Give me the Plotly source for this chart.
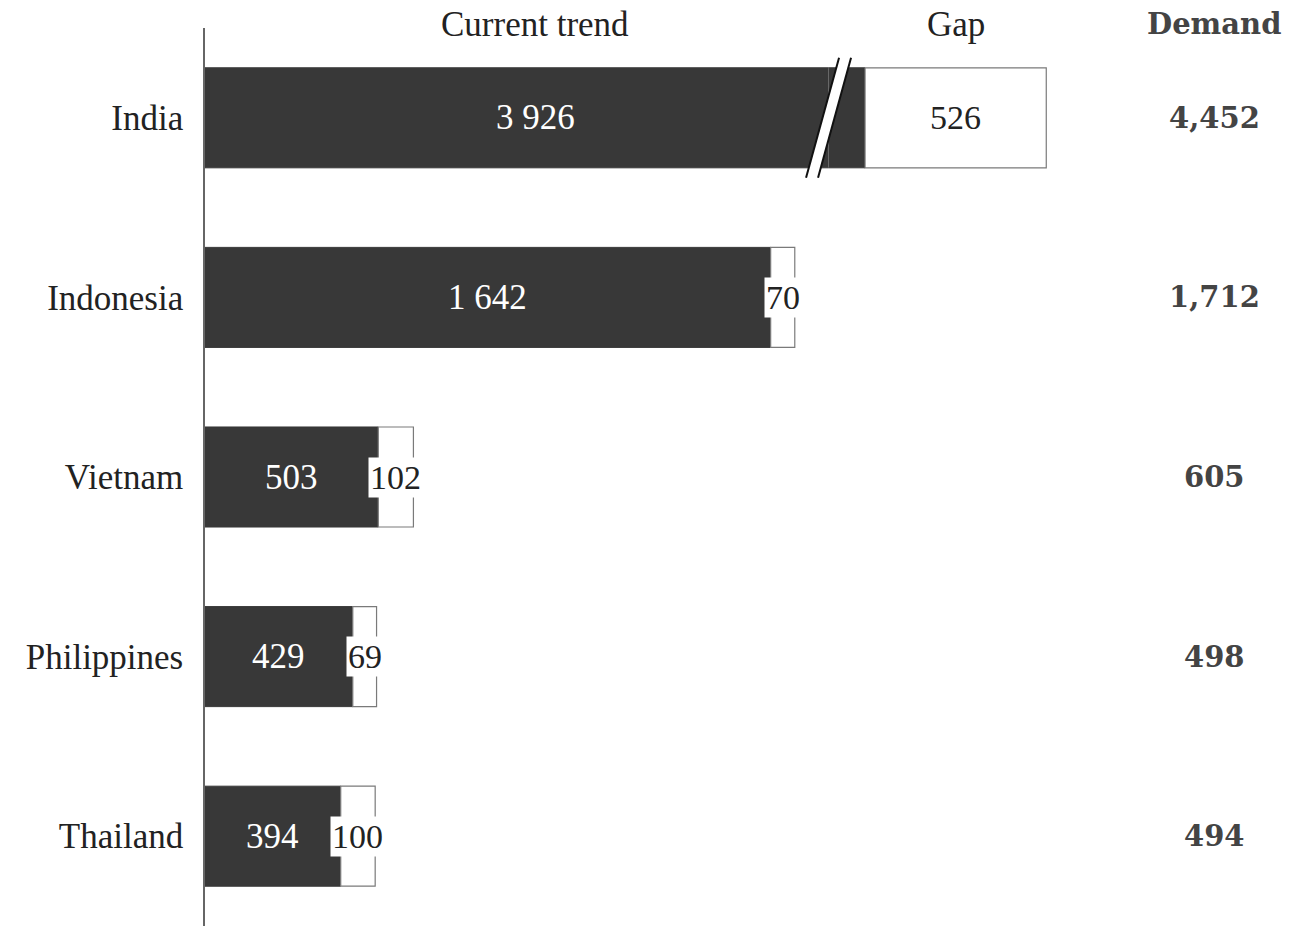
import plotly.graph_objects as go

# Workforce demand by country: current trend vs. remaining gap
countries = ["India", "Indonesia", "Vietnam", "Philippines", "Thailand"]
current_trend = [3926, 1642, 503, 429, 394]
gap = [526, 70, 102, 69, 100]
demand = [4452, 1712, 605, 498, 494]

DARK = "#383838"
EDGE = "#7a7a7a"
TEXT = "#222222"
SERIF = "Liberation Serif, Times New Roman, serif"
BOLD_SERIF = "DejaVu Serif, Georgia, serif"

# Broken x axis: left segment [0, LEFT_MAX], right segment [RIGHT_MIN, RIGHT_MAX]
LEFT_MAX = 1810
RIGHT_MIN = 3820
RIGHT_MAX = 4610
PX_PER_UNIT = 0.3445
W, H = 1314, 926
M_L, M_R, M_T, M_B = 205, 0, 28, 0
plot_w = W - M_L - M_R
d1 = LEFT_MAX * PX_PER_UNIT / plot_w
d2 = d1 + (RIGHT_MAX - RIGHT_MIN) * PX_PER_UNIT / plot_w

BAR_W = 0.557
DEMAND_X = (1214 - M_L) / plot_w

def fmt_space(v):
    return f"{v:,}".replace(",", " ")

fig = go.Figure()

# Left segment: every country
fig.add_trace(go.Bar(
    y=countries, x=current_trend, orientation="h", width=BAR_W,
    marker=dict(color=DARK, line=dict(color=DARK, width=1)),
    xaxis="x", yaxis="y", showlegend=False, hoverinfo="skip",
))
fig.add_trace(go.Bar(
    y=countries, x=gap, base=current_trend, orientation="h", width=BAR_W,
    marker=dict(color="white", line=dict(color=EDGE, width=1.2)),
    xaxis="x", yaxis="y", showlegend=False, hoverinfo="skip",
))

# Right segment: only the bar that crosses the break
big = [0]
fig.add_trace(go.Bar(
    y=[countries[i] for i in big], x=[current_trend[i] for i in big],
    orientation="h", width=BAR_W,
    marker=dict(color=DARK, line=dict(color=DARK, width=1)),
    xaxis="x2", yaxis="y", showlegend=False, hoverinfo="skip",
))
fig.add_trace(go.Bar(
    y=[countries[i] for i in big], x=[gap[i] for i in big],
    base=[current_trend[i] for i in big], orientation="h", width=BAR_W,
    marker=dict(color="white", line=dict(color=EDGE, width=1.2)),
    xaxis="x2", yaxis="y", showlegend=False, hoverinfo="skip",
))

annotations = []
for i, c in enumerate(countries):
    cur, g, d = current_trend[i], gap[i], demand[i]
    if cur > LEFT_MAX:
        # centre of the visible dark part across both segments
        cur_x = (LEFT_MAX + (cur - RIGHT_MIN)) / 2
        gap_ref, gap_x = "x2", cur + g / 2
    else:
        cur_x = cur / 2
        gap_ref, gap_x = "x", cur + g / 2
    annotations.append(dict(
        x=cur_x, y=c, xref="x", yref="y", text=fmt_space(cur), showarrow=False,
        font=dict(family=SERIF, size=35, color="white"),
        xanchor="center", yanchor="middle",
    ))
    annotations.append(dict(
        x=gap_x, y=c, xref=gap_ref, yref="y", text=fmt_space(g), showarrow=False,
        font=dict(family=SERIF, size=34, color=TEXT), bgcolor="white", borderpad=1,
        xanchor="center", yanchor="middle",
    ))
    annotations.append(dict(
        x=DEMAND_X, y=c, xref="paper", yref="y", text=f"<b>{d:,}</b>",
        showarrow=False, font=dict(family=BOLD_SERIF, size=29, color="#444444"),
        xanchor="center", yanchor="middle",
    ))

# Column headers
head_y = 1 + 4 / (H - M_T - M_B)
annotations.append(dict(
    x=(LEFT_MAX + (current_trend[0] - RIGHT_MIN)) / 2, y=head_y, xref="x", yref="paper",
    text="Current trend", showarrow=False, font=dict(family=SERIF, size=35, color=TEXT),
    xanchor="center", yanchor="middle",
))
annotations.append(dict(
    x=current_trend[0] + gap[0] / 2, y=head_y, xref="x2", yref="paper",
    text="Gap", showarrow=False, font=dict(family=SERIF, size=35, color=TEXT),
    xanchor="center", yanchor="middle",
))
annotations.append(dict(
    x=DEMAND_X, y=head_y, xref="paper", yref="paper",
    text="<b>Demand</b>", showarrow=False,
    font=dict(family=BOLD_SERIF, size=29, color="#444444"),
    xanchor="center", yanchor="middle",
))

# Axis-break marker: white slanted band bordered by two lines
band = "M -22.5,-60 L 10.5,60 L 22.5,60 L -10.5,-60 Z"
shapes = [
    dict(type="path", path=band, xref="paper", xsizemode="pixel", xanchor=d1,
         yref="y", ysizemode="pixel", yanchor=countries[0],
         fillcolor="white", line=dict(width=0), layer="above"),
    dict(type="path", path="M -22.5,-60 L 10.5,60", xref="paper", xsizemode="pixel",
         xanchor=d1, yref="y", ysizemode="pixel", yanchor=countries[0],
         line=dict(color="#111111", width=2), layer="above"),
    dict(type="path", path="M -10.5,-60 L 22.5,60", xref="paper", xsizemode="pixel",
         xanchor=d1, yref="y", ysizemode="pixel", yanchor=countries[0],
         line=dict(color="#111111", width=2), layer="above"),
]

fig.update_layout(
    width=W, height=H,
    margin=dict(l=M_L, r=M_R, t=M_T, b=M_B),
    paper_bgcolor="white", plot_bgcolor="white",
    barmode="overlay",
    xaxis=dict(domain=[0, d1], range=[0, LEFT_MAX], visible=False, anchor="y"),
    xaxis2=dict(domain=[d1, d2], range=[RIGHT_MIN, RIGHT_MAX], visible=False, anchor="y"),
    yaxis=dict(
        categoryorder="array", categoryarray=countries, range=[4.5, -0.5],
        showline=True, linecolor="#666666", linewidth=1.5, showgrid=False,
        zeroline=False, ticks="", ticklabelstandoff=13,
        tickfont=dict(family=SERIF, size=35, color=TEXT),
    ),
    annotations=annotations,
    shapes=shapes,
)

fig.write_html("out.html")
